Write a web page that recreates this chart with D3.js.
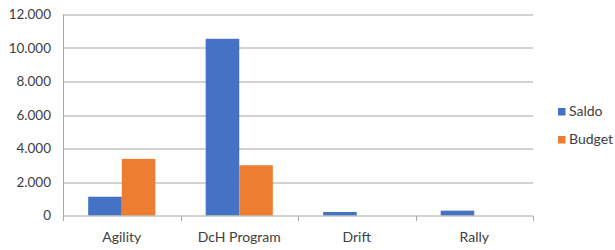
<!DOCTYPE html>
<html>
<head>
<meta charset="utf-8">
<title>Saldo en Budget</title>
<style>
  body { margin: 0; background: #fff; }
  text { font-family: Lato, "Open Sans", sans-serif; fill: #404040; }
</style>
</head>
<body>
<script src="https://d3js.org/d3.v7.min.js"></script>
<script>
var categories = ["Agility", "DcH Program", "Drift", "Rally"];
var seriesNames = ["Saldo", "Budget"];
var saldo  = [1120, 10550, 210, 290];
var budget = [3380, 3000, 0, 0];
var yTicks = [0, 2000, 4000, 6000, 8000, 10000, 12000];
var colors = ["#4472C4", "#ED7D31"];

var width = 615, height = 250;
var margin = {top: 14.5, right: 82, bottom: 34.5, left: 63};
var w = width - margin.left - margin.right,
    h = height - margin.top - margin.bottom;

var svg = d3.select("body").append("svg")
    .attr("width", width)
    .attr("height", height);

var chart = svg.append("g")
    .attr("transform", "translate(" + margin.left + "," + margin.top + ")");

var x0 = d3.scaleBand().domain(categories).range([0, w]).paddingInner(0).paddingOuter(0);
var x1 = d3.scaleBand().domain(seriesNames).range([0, x0.bandwidth() * 2 / 3.5])
var groupOffset = (x0.bandwidth() - x1.range()[1]) / 2;
var y = d3.scaleLinear().domain([0, 12000]).range([h, 0]);

var fmt = function(d){ return d3.format(",")(d).replace(/,/g, "."); };

// gridlines
chart.selectAll(".grid")
    .data(yTicks.slice(1))
    .enter().append("line")
    .attr("x1", 0).attr("x2", w)
    .attr("y1", function(d){ return Math.round(y(d)) + 0.5; })
    .attr("y2", function(d){ return Math.round(y(d)) + 0.5; })
    .attr("stroke", "#a6a6a6").attr("stroke-width", 1);

// y labels
chart.selectAll(".ylab")
    .data(yTicks)
    .enter().append("text")
    .attr("x", -12)
    .attr("y", function(d){ return y(d); })
    .attr("dy", "0.36em")
    .attr("text-anchor", "end")
    .attr("font-size", "13.5px")
    .text(fmt);

// bars
var rows = categories.map(function(c, i){ return {cat: c, vals: [saldo[i], budget[i]]}; });
var groups = chart.selectAll(".grp")
    .data(rows)
    .enter().append("g")
    .attr("transform", function(d){ return "translate(" + (x0(d.cat) + groupOffset) + ",0)"; });

groups.selectAll("rect")
    .data(function(d){ return d.vals.map(function(v, j){ return {s: seriesNames[j], v: v, c: colors[j]}; }); })
    .enter().append("rect")
    .attr("x", function(d){ return x1(d.s); })
    .attr("width", x1.bandwidth())
    .attr("y", function(d){ return y(d.v); })
    .attr("height", function(d){ return h - y(d.v); })
    .attr("fill", function(d){ return d.c; });

// y axis line
chart.append("line")
    .attr("x1", 0.5).attr("x2", 0.5)
    .attr("y1", 0).attr("y2", h)
    .attr("stroke", "#a6a6a6");

// x axis with ticks
var xAxis = chart.append("g")
    .attr("transform", "translate(0," + (Math.round(h) + 0.5) + ")");
xAxis.append("line")
    .attr("x1", 0).attr("x2", w)
    .attr("stroke", "#a6a6a6");
xAxis.selectAll(".tick")
    .data(d3.range(categories.length + 1))
    .enter().append("line")
    .attr("x1", function(i){ return Math.round(i * x0.step()) + 0.5; })
    .attr("x2", function(i){ return Math.round(i * x0.step()) + 0.5; })
    .attr("y1", 0).attr("y2", 5)
    .attr("stroke", "#a6a6a6");
xAxis.selectAll(".xlab")
    .data(categories)
    .enter().append("text")
    .attr("x", function(d){ return x0(d) + x0.bandwidth() / 2; })
    .attr("y", 25.5)
    .attr("text-anchor", "middle")
    .attr("font-size", "14px")
    .text(function(d){ return d; });

// legend
var legend = svg.append("g").attr("transform", "translate(558,108)");
var li = legend.selectAll(".li")
    .data(seriesNames)
    .enter().append("g")
    .attr("transform", function(d, i){ return "translate(0," + (i * 28) + ")"; });
li.append("rect")
    .attr("width", 7.5).attr("height", 7.5)
    .attr("fill", function(d, i){ return colors[i]; });
li.append("text")
    .attr("x", 11)
    .attr("y", 8)
    .attr("font-size", "14px")
    .text(function(d){ return d; });
</script>
</body>
</html>
